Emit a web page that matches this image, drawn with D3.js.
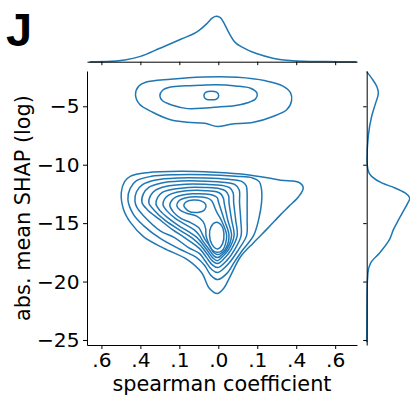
<!DOCTYPE html>
<html>
<head>
<meta charset="utf-8">
<script src="https://cdn.jsdelivr.net/npm/d3@7"></script>
<style>
  body { margin: 0; background: #fff; }
  svg { display: block; }
</style>
</head>
<body>
<div id="chart"></div>
<script>
// tick labels as printed in the figure
const xTickValues = [-0.6, -0.4, -0.2, 0, 0.2, 0.4, 0.6];
const xTickLabels = [".6", ".4", ".1", ".0", ".1", ".4", ".6"];
const yTickValues = [-5, -10, -15, -20, -25];
const yTickLabels = ["−5", "−10", "−15", "−20", "−25"];

// KDE iso-lines, points are [spearman, log SHAP]
// upper cluster (around -4)
const upperContours = [
  [[-0.425,-4.02],[-0.409,-3.29],[-0.373,-2.95],[-0.245,-2.69],[-0.075,-2.50],[0.099,-2.52],[0.243,-2.82],[0.330,-3.25],[0.371,-3.85],[0.376,-4.53],[0.351,-5.30],[0.284,-5.85],[0.181,-6.37],[0.063,-6.54],[-0.004,-6.73],[-0.070,-6.45],[-0.158,-6.37],[-0.245,-6.15],[-0.337,-5.51],[-0.404,-4.83]],
  [[-0.300,-4.10],[-0.286,-3.63],[-0.245,-3.35],[-0.168,-3.25],[-0.091,-3.21],[-0.014,-3.16],[0.089,-3.26],[0.166,-3.46],[0.199,-3.89],[0.192,-4.36],[0.150,-4.70],[0.073,-4.97],[0.012,-5.04],[-0.065,-5.15],[-0.158,-5.20],[-0.235,-4.91],[-0.286,-4.53]],
  [[-0.074,-4.09],[-0.063,-3.79],[-0.036,-3.72],[-0.009,-3.79],[0.002,-4.09],[-0.009,-4.38],[-0.036,-4.45],[-0.063,-4.38]]
];

// lower cluster (around -14), outermost first
const lowerContours = [
  [[-0.498,-12.39],[-0.481,-11.45],[-0.450,-10.98],[-0.365,-10.68],[-0.194,-10.56],[-0.024,-10.64],[0.149,-10.85],[0.320,-11.32],[0.412,-11.50],[0.436,-11.97],[0.412,-12.74],[0.361,-13.59],[0.320,-14.27],[0.252,-15.47],[0.181,-16.67],[0.115,-17.86],[0.063,-19.49],[0.027,-20.60],[-0.005,-21.03],[-0.045,-20.60],[-0.086,-19.23],[-0.159,-18.12],[-0.281,-17.14],[-0.384,-16.15],[-0.450,-14.96],[-0.486,-13.85]],
  [[-0.464,-12.99],[-0.453,-12.05],[-0.420,-11.37],[-0.348,-11.01],[-0.219,-10.86],[-0.065,-10.86],[0.089,-10.99],[0.176,-11.13],[0.210,-11.45],[0.222,-12.14],[0.222,-13.25],[0.207,-14.70],[0.181,-16.07],[0.127,-17.26],[0.084,-18.29],[0.043,-19.32],[-0.002,-19.83],[-0.037,-19.49],[-0.070,-18.63],[-0.111,-17.95],[-0.194,-17.26],[-0.296,-16.33],[-0.384,-15.21],[-0.435,-14.27]],
  [[-0.428,-13.12],[-0.420,-12.31],[-0.389,-11.71],[-0.322,-11.31],[-0.204,-11.13],[-0.065,-11.14],[0.053,-11.25],[0.120,-11.42],[0.143,-11.79],[0.148,-12.48],[0.148,-13.25],[0.148,-14.70],[0.145,-16.07],[0.104,-17.26],[0.053,-18.46],[-0.003,-19.23],[-0.034,-18.97],[-0.065,-18.29],[-0.096,-17.61],[-0.153,-17.09],[-0.225,-16.24],[-0.296,-15.68],[-0.384,-14.36],[-0.417,-13.68]],
  [[-0.392,-13.21],[-0.384,-12.48],[-0.355,-11.92],[-0.296,-11.58],[-0.194,-11.40],[-0.065,-11.41],[0.037,-11.52],[0.084,-11.69],[0.107,-12.14],[0.109,-13.25],[0.115,-14.70],[0.117,-16.07],[0.084,-17.26],[0.043,-18.21],[-0.003,-18.80],[-0.032,-18.55],[-0.060,-17.95],[-0.096,-17.18],[-0.173,-16.24],[-0.235,-15.56],[-0.307,-14.62],[-0.364,-13.85]],
  [[-0.356,-13.29],[-0.348,-12.65],[-0.322,-12.18],[-0.271,-11.86],[-0.168,-11.67],[-0.065,-11.68],[0.022,-11.78],[0.058,-11.97],[0.076,-12.39],[0.079,-13.25],[0.089,-14.70],[0.097,-16.07],[0.066,-17.26],[0.030,-18.03],[-0.004,-18.46],[-0.029,-18.25],[-0.055,-17.69],[-0.091,-16.92],[-0.137,-16.24],[-0.194,-15.64],[-0.271,-14.79],[-0.327,-13.93]],
  [[-0.320,-13.38],[-0.312,-12.82],[-0.289,-12.39],[-0.245,-12.14],[-0.153,-11.94],[-0.065,-11.95],[0.007,-12.05],[0.037,-12.24],[0.053,-12.65],[0.055,-13.25],[0.068,-14.70],[0.081,-16.07],[0.053,-17.26],[0.022,-17.86],[-0.004,-18.21],[-0.027,-17.99],[-0.060,-17.26],[-0.109,-16.24],[-0.153,-15.73],[-0.204,-15.21],[-0.260,-14.53],[-0.299,-13.93]],
  [[-0.284,-13.42],[-0.276,-12.95],[-0.255,-12.61],[-0.214,-12.36],[-0.142,-12.21],[-0.065,-12.22],[-0.009,-12.32],[0.014,-12.52],[0.027,-12.91],[0.030,-13.25],[0.048,-14.70],[0.068,-16.07],[0.043,-17.26],[0.017,-17.73],[-0.004,-17.95],[-0.024,-17.78],[-0.047,-17.26],[-0.081,-16.50],[-0.096,-16.07],[-0.122,-15.60],[-0.168,-15.13],[-0.219,-14.62],[-0.265,-13.93]],
  [[-0.249,-13.46],[-0.240,-13.08],[-0.219,-12.78],[-0.183,-12.59],[-0.132,-12.49],[-0.065,-12.50],[-0.027,-12.61],[-0.006,-12.82],[0.002,-13.25],[0.030,-14.70],[0.055,-16.07],[0.035,-17.26],[0.012,-17.61],[-0.005,-17.69],[-0.024,-17.52],[-0.042,-17.01],[-0.068,-16.41],[-0.081,-15.98],[-0.101,-15.38],[-0.142,-14.96],[-0.194,-14.57],[-0.230,-14.06]],
  [[-0.213,-13.50],[-0.204,-13.12],[-0.183,-12.91],[-0.142,-12.77],[-0.091,-12.77],[-0.055,-12.86],[-0.034,-13.08],[-0.024,-13.42],[-0.009,-14.02],[0.014,-14.70],[0.043,-16.07],[0.025,-17.26],[0.009,-17.46],[-0.006,-17.49],[-0.024,-17.39],[-0.040,-17.09],[-0.055,-16.50],[-0.063,-16.07],[-0.065,-15.47],[-0.078,-14.87],[-0.111,-14.40],[-0.163,-14.15],[-0.196,-13.89]],
  // the two innermost islands
  [[-0.177,-13.46],[-0.163,-13.15],[-0.127,-13.03],[-0.086,-13.12],[-0.064,-13.42],[-0.070,-13.85],[-0.106,-14.08],[-0.153,-13.97]],
  [[-0.045,-16.07],[-0.037,-15.30],[-0.011,-14.93],[0.017,-15.21],[0.029,-15.98],[0.022,-16.75],[-0.004,-17.21],[-0.032,-16.84]]
];

// marginal densities: [spearman, density] and [log SHAP, density]
const xMarginal = [[-0.66,0],[-0.57,0.01],[-0.48,0.09],[-0.40,0.27],[-0.30,0.68],[-0.19,1.15],[-0.10,1.58],[-0.06,1.92],[-0.03,2.22],[-0.01,2.30],[0.01,2.24],[0.03,1.95],[0.05,1.55],[0.08,1.05],[0.13,0.70],[0.20,0.40],[0.28,0.18],[0.40,0.04],[0.55,0.005],[0.71,0]];
const yMarginal = [[-2.03,0],[-2.59,0.016],[-3.31,0.033],[-3.87,0.038],[-4.73,0.029],[-5.87,0.016],[-7.58,0.005],[-9.57,0.001],[-10.43,0.004],[-11.00,0.016],[-11.56,0.049],[-11.99,0.092],[-12.42,0.125],[-12.91,0.140],[-13.27,0.134],[-13.99,0.119],[-14.70,0.104],[-15.56,0.087],[-16.41,0.074],[-17.55,0.042],[-18.40,0.013],[-19.26,0.004],[-20.97,0.001],[-25.2,0]];

const W = 410, H = 398;
const plot = {left: 87, right: 357, top: 71, bottom: 345};
const topMarg = {top: 14, bottom: 61.7};
const rightMarg = {left: 366.7, right: 409.7};
const blue = "#1f77b4";
const tickFont = 20.2, labelFont = 20.8;

const svg = d3.select("#chart").append("svg")
  .attr("width", W).attr("height", H);

const x = d3.scaleLinear().domain([-0.674, 0.712]).range([plot.left, plot.right]);
const y = d3.scaleLinear().domain([-25.43, -1.98]).range([plot.bottom, plot.top]);
const dTop = d3.scaleLinear().domain([0, 2.42]).range([topMarg.bottom, topMarg.top]);
const dRight = d3.scaleLinear().domain([0, 0.14]).range([rightMarg.left, rightMarg.right]);

// contours
const contourLine = d3.line()
  .x(d => x(d[0])).y(d => y(d[1]))
  .curve(d3.curveCatmullRomClosed.alpha(0.5));

svg.append("g")
  .selectAll("path")
  .data(upperContours.concat(lowerContours))
  .join("path")
  .attr("d", contourLine)
  .attr("fill", "none")
  .attr("stroke", blue)
  .attr("stroke-width", 1.5);

// main axes
const gx = svg.append("g")
  .attr("transform", `translate(0,${plot.bottom})`)
  .call(d3.axisBottom(x).tickValues(xTickValues)
    .tickFormat(d => xTickLabels[xTickValues.indexOf(d)])
    .tickSize(4).tickSizeOuter(0).tickPadding(4));

const gy = svg.append("g")
  .attr("transform", `translate(${plot.left},0)`)
  .call(d3.axisLeft(y).tickValues(yTickValues)
    .tickFormat(d => yTickLabels[yTickValues.indexOf(d)])
    .tickSize(4).tickSizeOuter(0).tickPadding(3.5));

[gx, gy].forEach(g => g
  .attr("font-family", "DejaVu Sans")
  .attr("font-size", tickFont));

// top marginal
svg.append("path")
  .datum(xMarginal)
  .attr("d", d3.line().x(d => x(d[0])).y(d => dTop(d[1])).curve(d3.curveMonotoneX))
  .attr("fill", "none").attr("stroke", blue).attr("stroke-width", 1.5);

svg.append("g")
  .attr("transform", `translate(0,${topMarg.bottom})`)
  .call(d3.axisBottom(x).tickValues(xTickValues).tickFormat("")
    .tickSize(3.5).tickSizeOuter(0));

// right marginal
svg.append("path")
  .datum(yMarginal)
  .attr("d", d3.line().x(d => dRight(d[1])).y(d => y(d[0])).curve(d3.curveMonotoneY))
  .attr("fill", "none").attr("stroke", blue).attr("stroke-width", 1.5);

svg.append("g")
  .attr("transform", `translate(${rightMarg.left},0)`)
  .call(d3.axisLeft(y).tickValues(yTickValues).tickFormat("")
    .tickSize(3.5).tickSizeOuter(0));

// labels
svg.append("text")
  .attr("x", (plot.left + plot.right) / 2).attr("y", 391)
  .attr("text-anchor", "middle")
  .attr("font-family", "DejaVu Sans").attr("font-size", labelFont)
  .text("spearman coefficient");

svg.append("text")
  .attr("transform", `translate(29.5,${(plot.top + plot.bottom) / 2}) rotate(-90)`)
  .attr("text-anchor", "middle")
  .attr("font-family", "DejaVu Sans").attr("font-size", labelFont)
  .text("abs. mean SHAP (log)");

svg.append("text")
  .attr("x", 6).attr("y", 46)
  .attr("font-family", "Liberation Sans").attr("font-weight", "bold")
  .attr("font-size", 47)
  .text("J");
</script>
</body>
</html>
